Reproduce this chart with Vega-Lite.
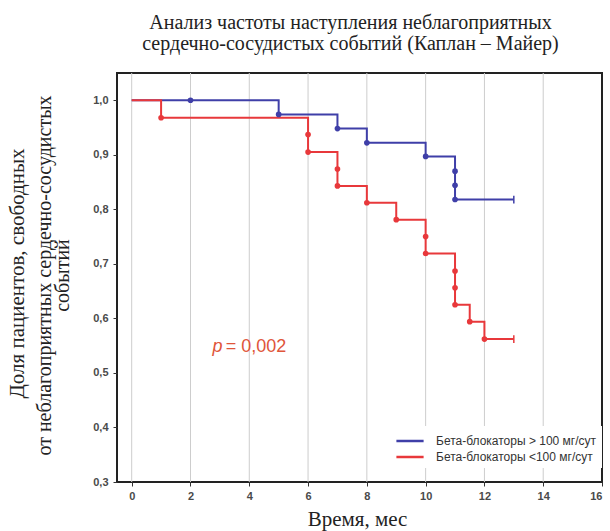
{
  "$schema": "https://vega.github.io/schema/vega-lite/v6.json",
  "width": 485,
  "height": 409,
  "autosize": {"type": "none"},
  "padding": {"left": 117, "top": 73, "right": 8, "bottom": 49},
  "background": "white",
  "title": {
    "text": ["Анализ частоты наступления неблагоприятных", "сердечно-сосудистых событий (Каплан – Майер)"],
    "font": "Liberation Serif",
    "fontSize": 20,
    "fontWeight": "normal",
    "color": "#222",
    "lineHeight": 21,
    "anchor": "middle",
    "dx": -9,
    "offset": 19
  },
  "config": {
    "view": {"stroke": "#222", "strokeWidth": 2},
    "axis": {
      "domain": false,
      "tickColor": "#333",
      "tickSize": 4,
      "labelFont": "Liberation Sans",
      "labelFontSize": 11,
      "labelFontWeight": "bold",
      "labelColor": "#4a4a4a",
      "titleFont": "Liberation Serif",
      "titleFontWeight": "normal",
      "titleColor": "#222"
    }
  },
  "resolve": {"axis": {"y": "independent"}},
  "datasets": {
    "xgrid": [{"t": 0}, {"t": 2}, {"t": 4}, {"t": 6}, {"t": 8}, {"t": 10}, {"t": 12}, {"t": 14}],
    "ygrid": [{"s": 0.4}, {"s": 0.5}, {"s": 0.6}, {"s": 0.7}, {"s": 0.8}, {"s": 0.9}, {"s": 1.0}],
    "curve": [
      {"group": "Бета-блокаторы > 100 мг/сут", "t": 0, "s": 1.0},
      {"group": "Бета-блокаторы > 100 мг/сут", "t": 5, "s": 0.974},
      {"group": "Бета-блокаторы > 100 мг/сут", "t": 7, "s": 0.948},
      {"group": "Бета-блокаторы > 100 мг/сут", "t": 8, "s": 0.922},
      {"group": "Бета-блокаторы > 100 мг/сут", "t": 10, "s": 0.897},
      {"group": "Бета-блокаторы > 100 мг/сут", "t": 11, "s": 0.818},
      {"group": "Бета-блокаторы > 100 мг/сут", "t": 13, "s": 0.818},
      {"group": "Бета-блокаторы <100 мг/сут", "t": 0, "s": 1.0},
      {"group": "Бета-блокаторы <100 мг/сут", "t": 1, "s": 0.968},
      {"group": "Бета-блокаторы <100 мг/сут", "t": 6, "s": 0.905},
      {"group": "Бета-блокаторы <100 мг/сут", "t": 7, "s": 0.843},
      {"group": "Бета-блокаторы <100 мг/сут", "t": 8, "s": 0.812},
      {"group": "Бета-блокаторы <100 мг/сут", "t": 9, "s": 0.781},
      {"group": "Бета-блокаторы <100 мг/сут", "t": 10, "s": 0.719},
      {"group": "Бета-блокаторы <100 мг/сут", "t": 11, "s": 0.625},
      {"group": "Бета-блокаторы <100 мг/сут", "t": 11.5, "s": 0.594},
      {"group": "Бета-блокаторы <100 мг/сут", "t": 12, "s": 0.562},
      {"group": "Бета-блокаторы <100 мг/сут", "t": 13, "s": 0.562}
    ],
    "marks": [
      {"group": "Бета-блокаторы > 100 мг/сут", "t": 2, "s": 1.0},
      {"group": "Бета-блокаторы > 100 мг/сут", "t": 5, "s": 0.974},
      {"group": "Бета-блокаторы > 100 мг/сут", "t": 7, "s": 0.948},
      {"group": "Бета-блокаторы > 100 мг/сут", "t": 8, "s": 0.922},
      {"group": "Бета-блокаторы > 100 мг/сут", "t": 10, "s": 0.897},
      {"group": "Бета-блокаторы > 100 мг/сут", "t": 11, "s": 0.870},
      {"group": "Бета-блокаторы > 100 мг/сут", "t": 11, "s": 0.844},
      {"group": "Бета-блокаторы > 100 мг/сут", "t": 11, "s": 0.818},
      {"group": "Бета-блокаторы <100 мг/сут", "t": 1, "s": 0.968},
      {"group": "Бета-блокаторы <100 мг/сут", "t": 6, "s": 0.937},
      {"group": "Бета-блокаторы <100 мг/сут", "t": 6, "s": 0.905},
      {"group": "Бета-блокаторы <100 мг/сут", "t": 7, "s": 0.874},
      {"group": "Бета-блокаторы <100 мг/сут", "t": 7, "s": 0.843},
      {"group": "Бета-блокаторы <100 мг/сут", "t": 8, "s": 0.812},
      {"group": "Бета-блокаторы <100 мг/сут", "t": 9, "s": 0.781},
      {"group": "Бета-блокаторы <100 мг/сут", "t": 10, "s": 0.750},
      {"group": "Бета-блокаторы <100 мг/сут", "t": 10, "s": 0.719},
      {"group": "Бета-блокаторы <100 мг/сут", "t": 11, "s": 0.687},
      {"group": "Бета-блокаторы <100 мг/сут", "t": 11, "s": 0.656},
      {"group": "Бета-блокаторы <100 мг/сут", "t": 11, "s": 0.625},
      {"group": "Бета-блокаторы <100 мг/сут", "t": 11.5, "s": 0.594},
      {"group": "Бета-блокаторы <100 мг/сут", "t": 12, "s": 0.562}
    ],
    "ends": [
      {"group": "Бета-блокаторы > 100 мг/сут", "t": 13, "s": 0.818},
      {"group": "Бета-блокаторы <100 мг/сут", "t": 13, "s": 0.562}
    ],
    "pval": [
      {"t": 2.75, "s": 0.548, "part": "p"}
    ],
    "pnum": [
      {"t": 3.2, "s": 0.548, "part": "= 0,002"}
    ]
  },
  "encoding": {
    "x": {
      "field": "t", "type": "quantitative",
      "scale": {"domain": [-0.5, 16], "nice": false, "zero": false},
      "axis": {
        "values": [0, 2, 4, 6, 8, 10, 12, 14, 16],
        "grid": false,
        "title": "Время, мес",
        "titleFontSize": 21,
        "titleX": 240,
        "titleY": 43,
        "titleBaseline": "alphabetic",
        "labelPadding": 4
      }
    }
  },
  "layer": [
    {
      "data": {"name": "xgrid"},
      "mark": {"type": "rule", "color": "#cdcdcd", "strokeWidth": 1},
      "encoding": {}
    },
    {
      "data": {"name": "ygrid"},
      "mark": {"type": "rule", "color": "#cdcdcd", "strokeWidth": 1},
      "encoding": {
        "y": {"field": "s", "type": "quantitative", "axis": null},
        "x": {"datum": -0.5},
        "x2": {"datum": 16}
      }
    },
    {
      "data": {"name": "curve"},
      "mark": {"type": "line", "interpolate": "step-after", "strokeWidth": 2},
      "encoding": {
        "y": {
          "field": "s", "type": "quantitative",
          "scale": {"domain": [0.3, 1.05], "nice": false, "zero": false},
          "axis": {
            "orient": "left",
            "grid": false,
            "values": [0.3, 0.4, 0.5, 0.6, 0.7, 0.8, 0.9, 1.0],
            "labelExpr": "replace(format(datum.value, '.1f'), '.', ',')",
            "labelPadding": 5,
            "title": "Доля пациентов, свободных",
            "titleFontSize": 21,
            "titleAngle": -90,
            "titleAlign": "center",
            "titleBaseline": "alphabetic",
            "titleX": -94,
            "titleY": 200
          }
        },
        "color": {
          "field": "group", "type": "nominal",
          "scale": {
            "domain": ["Бета-блокаторы > 100 мг/сут", "Бета-блокаторы <100 мг/сут"],
            "range": ["#3f3fa8", "#e8383b"]
          },
          "legend": {
            "title": null,
            "orient": "none",
            "legendX": 278,
            "legendY": 353,
            "symbolType": "M-1.6,0L1.6,0",
            "symbolStrokeWidth": 2.5,
            "symbolSize": 289,
            "labelFont": "Liberation Sans",
            "labelFontSize": 12,
            "labelLimit": 300,
            "labelColor": "#333",
            "labelOffset": 16,
            "rowPadding": 0,
            "fillColor": "white",
            "padding": 5
          }
        }
      }
    },
    {
      "data": {"name": "marks"},
      "mark": {"type": "point", "filled": true, "size": 32, "opacity": 1},
      "encoding": {
        "y": {
          "field": "s", "type": "quantitative",
          "axis": {
            "orient": "left",
            "title": ["от неблагоприятных сердечно-сосудистых", "событий"],
            "titleFontSize": 20,
            "titleLineHeight": 18,
            "titleAngle": -90,
            "titleAlign": "center",
            "titleBaseline": "alphabetic",
            "titleX": -67,
            "titleY": 202,
            "labels": false,
            "ticks": false,
            "grid": false,
            "domain": false
          }
        },
        "color": {"field": "group", "type": "nominal", "legend": null}
      }
    },
    {
      "data": {"name": "ends"},
      "mark": {"type": "point", "shape": "M0,-1L0,1", "size": 60, "strokeWidth": 1.5, "filled": false, "opacity": 1},
      "encoding": {
        "y": {"field": "s", "type": "quantitative", "axis": null},
        "color": {"field": "group", "type": "nominal", "legend": null}
      }
    },
    {
      "data": {"name": "pval"},
      "mark": {"type": "text", "font": "Liberation Sans", "fontSize": 18, "fontStyle": "italic", "fill": "#e0553a", "align": "left", "baseline": "middle"},
      "encoding": {
        "y": {"field": "s", "type": "quantitative", "axis": null},
        "text": {"field": "part"}
      }
    },
    {
      "data": {"name": "pnum"},
      "mark": {"type": "text", "font": "Liberation Sans", "fontSize": 18, "fill": "#e0553a", "align": "left", "baseline": "middle"},
      "encoding": {
        "y": {"field": "s", "type": "quantitative", "axis": null},
        "text": {"field": "part"}
      }
    }
  ]
}
